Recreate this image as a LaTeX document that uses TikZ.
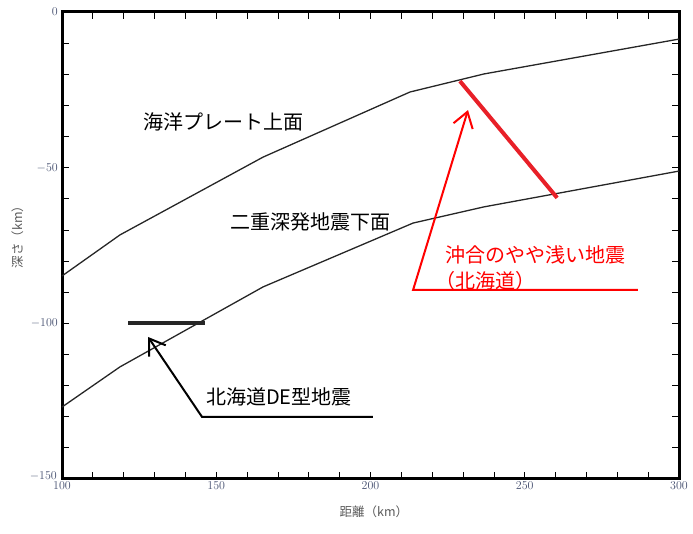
\documentclass[tikz,border=0pt]{standalone}
\usepackage{fontspec}
\newfontfamily\jpfont{Noto Sans CJK JP}
\usetikzlibrary{arrows.meta}
\definecolor{ticklabel}{RGB}{70,80,112}
\definecolor{barred}{RGB}{232,32,40}

\begin{document}
\begin{tikzpicture}[
    x=3.085pt, y=3.113pt,
    surface/.style={line width=1.3pt, black!85},
    ticklab/.style={font=\fontsize{13}{14}\selectfont, text=ticklabel, inner sep=1pt},
    axislab/.style={font=\jpfont\fontsize{12.5}{14}\selectfont, text=black!65},
    quake/.style={font=\jpfont\fontsize{20}{26}\selectfont, inner sep=0pt},
    pointer/.style={line width=2pt, -{Straight Barb[length=15pt,width=20pt]}},
    eventbar/.style={line width=4pt}
  ]
  \useasboundingbox (79.90,3.855) rectangle (304.54,-167.68);

  % Ticks
  \foreach \x in {110,120,...,290} {
    \draw[line width=0.8pt] (\x,0) -- ++(0pt,-7pt);
    \draw[line width=0.8pt] (\x,-150) -- ++(0pt,7pt);
  }
  \foreach \y in {-10,-20,...,-140} {
    \draw[line width=0.8pt] (100,\y) -- ++(7pt,0pt);
    \draw[line width=0.8pt] (300,\y) -- ++(-7pt,0pt);
  }

  % Frame
  \draw[line width=3pt] (100,0) rectangle (300,-150);

  % Tick labels
  \foreach \y/\t in {0/0,50/-50,100/-100}
    \node[ticklab, anchor=east, xshift=-3pt] (ylab\y) at (100,-\y) {$\t$};
  \node[ticklab, anchor=east, xshift=-4pt, yshift=2.5pt] (ylab150) at (100,-150) {$-150$};
  \foreach \x in {100,150,200,250,300}
    \node[ticklab, anchor=north, yshift=-1.5pt] (xlab\x) at (\x,-150) {$\x$};

  % Axis labels
  \node[axislab] (xname) at (201.1,-160.6) {距離（km）};
  \node[axislab, rotate=90] (yname) at (85.74,-71.3) {深さ（km）};

  % Plate surfaces
  \draw[surface] (100,-84.8) -- (118.8,-71.6) -- (165.2,-46.6) -- (212.8,-25.7)
    -- (236.8,-19.9) -- (300,-8.7);
  \draw[surface] (100,-126.9) -- (118.8,-114.0) -- (165.2,-88.3) -- (213.8,-67.8)
    -- (236.8,-62.6) -- (300,-51.1);
  \node[quake] (upper) at (152.5,-35.3) {海洋プレート上面};
  \node[quake] (lower) at (180.4,-67.5) {二重深発地震下面};

  % Earthquakes
  \draw[eventbar, black!85] (121.4,-100) -- (146.4,-100);
  \draw[eventbar, barred] (229,-22.2) -- (260.5,-59.7);

  % Labels and pointers
  \node[quake] (delab) at (170.3,-123.7) {北海道DE型地震};
  \coordinate (detip) at (127.9,-104.4);
  \coordinate (deknee) at (145.4,-130.1);
  \coordinate (deend) at (200.8,-130.1);
  \draw[pointer] (deend) -- (deknee) -- (detip);

  \node[quake, text=red, align=left, anchor=west] (shallow) at (224.15,-82.2)
    {沖合のやや浅い地震\\\hspace*{-0.5em}（北海道）};
  \coordinate (redtip) at (231.6,-31.5);
  \coordinate (redknee) at (213.8,-89.3);
  \coordinate (redend) at (286.7,-89.3);
  \draw[pointer, red] (redend) -- (redknee) -- (redtip);
\end{tikzpicture}
\end{document}
